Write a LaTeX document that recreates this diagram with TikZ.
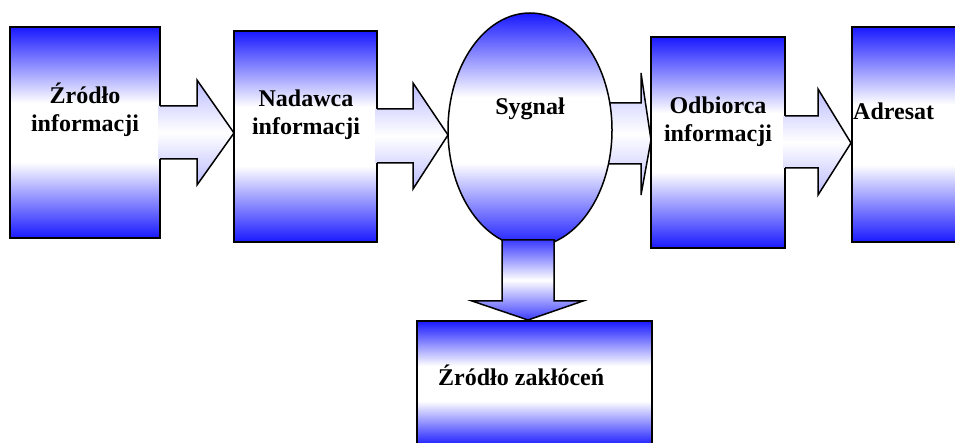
\documentclass[tikz,border=0pt]{standalone}
\usepackage{fontspec}
\setmainfont{Liberation Serif}
\definecolor{bl}{RGB}{25,25,255}
\colorlet{lb}{bl!30!white}
\pgfdeclareverticalshading{bwb}{100bp}{color(0bp)=(bl); color(25bp)=(bl); color(43bp)=(white); color(57bp)=(white); color(75bp)=(bl); color(100bp)=(bl)}
\newcommand\blockshape[1]{\shade[sh] #1; \draw[ol] #1;}
\begin{document}
\begin{tikzpicture}[x=1pt,y=-1pt,
  sh/.style={shading=bwb},
  lsh/.style={top color=lb,bottom color=lb,middle color=white},
  dsh/.style={top color=bl!85!white,bottom color=bl!85!white,middle color=white},
  ol/.style={draw=black,line width=1.5pt,line join=miter},
  lbl/.style={font=\bfseries\fontsize{24}{28}\selectfont,inner sep=0pt,align=center}]
\useasboundingbox (0,0) rectangle (955,443);
\clip (0,0) rectangle (955,443);
% boxes
\blockshape{(10,27) rectangle (160,238)}
\blockshape{(234,31) rectangle (377,242)}
\blockshape{(651,37) rectangle (785,248)}
\blockshape{(852,27) rectangle (966,242)}
\blockshape{(417,321) rectangle (652,446)}
% block arrows
\shade[lsh] (158,106) -- (197,106) -- (197,80) -- (234,133) -- (197,185) -- (197,159) -- (158,159) -- cycle;
\draw[ol] (160,106) -- (197,106) -- (197,80) -- (234,133) -- (197,185) -- (197,159) -- (160,159);
\shade[lsh] (375,109) -- (413,109) -- (413,83) -- (448,135) -- (413,189) -- (413,163) -- (375,163) -- cycle;
\draw[ol] (377,109) -- (413,109) -- (413,83) -- (448,135) -- (413,189) -- (413,163) -- (377,163);
\shade[lsh] (600,103) -- (641,103) -- (641,73) -- (651,140) -- (641,195) -- (641,164) -- (600,164) -- cycle;
\draw[ol] (600,103) -- (641,103) -- (641,73) -- (651,140) -- (641,195) -- (641,164) -- (600,164);
\shade[lsh] (783,116) -- (818,116) -- (818,89) -- (851,143) -- (818,195) -- (818,168) -- (783,168) -- cycle;
\draw[ol] (785,116) -- (818,116) -- (818,89) -- (851,143) -- (818,195) -- (818,168) -- (785,168);
% signal ellipse
\blockshape{(530,130) ellipse [x radius=82, y radius=117]}
\shade[dsh] (502,240) -- (502,301) -- (472,301) -- (528,320) -- (583,301) -- (554,301) -- (554,240) -- cycle;
\draw[ol] (502,240) -- (502,301) -- (472,301) -- (528,320) -- (583,301) -- (554,301) -- (554,240) -- cycle;
% labels
\node[lbl,anchor=base] (t1) at (85,132) {Źródło\\informacji};
\node[lbl,anchor=base] (t2) at (306,135) {Nadawca\\informacji};
\node[lbl,anchor=base] (t3) at (530,115) {Sygnał};
\node[lbl,anchor=base] (t4) at (718,142) {Odbiorca\\informacji};
\node[lbl,anchor=base west] (t5) at (853,120) {Adresat};
\node[lbl,anchor=base west] (t6) at (438,385) {Źródło zakłóceń};
\end{tikzpicture}
\end{document}
